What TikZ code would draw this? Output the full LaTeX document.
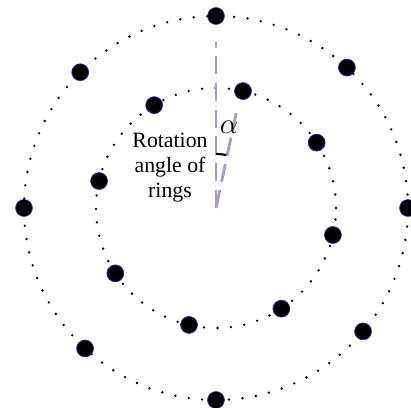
\documentclass[tikz,border=0pt]{standalone}
\usepackage{fontspec}
\setmainfont{Liberation Serif}
\definecolor{ringdot}{RGB}{0,0,0}
\definecolor{dotrim}{RGB}{40,40,160}
\definecolor{guide}{RGB}{170,155,196}

\tikzset{
  bead/.style={circle,fill=ringdot,draw=dotrim,line width=0.5pt,inner sep=0pt,minimum size=12pt},
  ring/.style={line width=1.9pt,dash pattern=on 0pt off 9.6pt,line cap=round},
  guideline/.style={guide,line width=2pt,dash pattern=on 13pt off 6pt}
}

\begin{document}
\begin{tikzpicture}[x=0.025cm,y=0.025cm]
  \useasboundingbox (-216,-199) rectangle (195,208);
  \coordinate (c) at (0,0);
  % dotted rings
  \draw[ring] (c) circle (192);
  \draw[ring] (c) circle (120);
  % beads on the outer ring
  \foreach \ang [count=\k] in {90,47,0,-40,-90,-133,180,135}
    \node[bead] (o\k) at (\ang:192) {};
  % beads on the inner ring, turned by alpha
  \foreach \ang [count=\k] in {77,33,-13,-57,-103,-147,167,121}
    \node[bead] (i\k) at (\ang:120) {};
  \coordinate (tip) at (78:97);
  \draw[guideline,shorten >=12pt] (c) -- (o1);
  \draw[guideline] (c) -- (tip);
  \draw[line width=1.5pt] (c) ++(90:54) arc (90:79:54);
  \node at (13,81) {\fontsize{22}{22}\selectfont$\alpha$};
  \node[align=center,font=\fontsize{15.5}{17.8}\selectfont] (lbl) at (-46,40) {Rotation\\angle of\\rings};
\end{tikzpicture}
\end{document}
